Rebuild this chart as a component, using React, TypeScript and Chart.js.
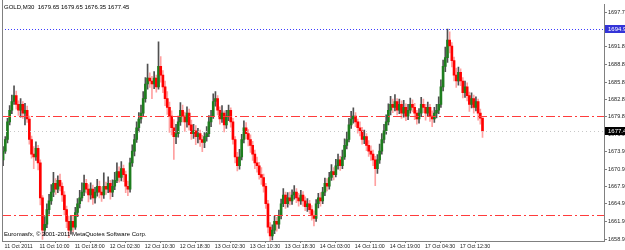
import React, { useEffect, useRef } from "react";
import { Chart, registerables } from "chart.js";
Chart.register(...registerables);

const symbolTitle = "GOLD,M30  1679.65 1679.65 1676.35 1677.45";
const copyright = "Euromasfx, \u00a9 2001-2011 MetaQuotes Software Corp.";

const firstOpen = 1672.5;
const closes = [
  1674.0,1676.0,1679.0,1681.0,1682.5,1683.5,1682.0,1681.0,1682.0,1680.5,
  1681.0,1679.5,1676.0,1673.5,1673.0,1674.5,1672.0,1666.0,1660.5,1661.5,
  1664.0,1665.5,1667.0,1668.5,1667.5,1669.0,1668.0,1666.5,1664.0,1662.0,
  1660.5,1662.0,1661.0,1663.5,1665.0,1666.0,1667.0,1668.5,1667.5,1666.5,
  1667.5,1666.0,1667.0,1668.0,1667.0,1666.5,1668.0,1667.5,1668.5,1667.0,
  1668.0,1669.0,1670.5,1669.5,1671.0,1670.0,1668.0,1667.5,1672.0,1674.0,
  1676.0,1678.0,1679.5,1680.5,1683.0,1685.5,1686.5,1686.0,1685.5,1686.5,
  1685.0,1688.5,1687.0,1685.0,1683.0,1681.5,1680.0,1678.0,1676.5,1677.0,
  1679.0,1681.0,1680.0,1679.0,1680.5,1678.5,1677.0,1677.5,1676.5,1677.0,
  1676.0,1675.5,1676.5,1677.0,1679.0,1680.0,1682.5,1683.0,1681.0,1679.5,
  1680.5,1678.5,1680.0,1681.0,1679.0,1676.0,1673.0,1671.5,1673.0,1676.0,
  1678.0,1677.0,1676.0,1675.0,1673.5,1672.0,1671.5,1670.0,1669.5,1668.0,
  1665.0,1661.0,1659.5,1660.5,1662.0,1661.5,1663.0,1665.0,1666.5,1665.0,
  1666.0,1665.5,1666.5,1667.0,1666.0,1665.5,1666.5,1665.5,1664.5,1665.0,
  1664.0,1663.0,1662.5,1665.0,1666.0,1665.5,1667.0,1668.5,1668.0,1669.5,
  1670.5,1670.0,1671.5,1672.5,1671.5,1673.0,1675.0,1676.0,1678.5,1679.5,
  1680.0,1679.0,1678.0,1677.5,1676.0,1676.5,1675.0,1674.0,1673.5,1672.5,
  1671.0,1672.5,1674.0,1676.0,1677.5,1679.0,1681.0,1682.0,1681.5,1682.5,
  1681.0,1682.0,1680.5,1681.5,1680.0,1681.0,1682.0,1681.5,1680.5,1679.5,
  1680.5,1682.0,1681.5,1680.5,1681.5,1680.0,1679.5,1680.5,1681.0,1682.0,
  1685.0,1688.5,1690.0,1693.0,1692.0,1689.5,1687.0,1686.0,1687.5,1686.0,
  1684.0,1685.0,1683.5,1682.0,1683.0,1681.5,1682.5,1680.5,1679.65,1677.45,
];
const highs = [
  1674.8,1676.5,1679.6,1681.8,1683.6,1685.2,1684.3,1682.6,1683.0,1682.5,
  1682.2,1681.7,1680.0,1676.6,1674.8,1675.6,1675.0,1672.5,1666.4,1662.8,
  1665.0,1666.6,1668.3,1670.4,1669.3,1669.8,1670.1,1668.6,1667.1,1664.6,
  1662.9,1663.0,1662.9,1664.4,1665.9,1667.3,1668.6,1669.9,1669.2,1668.3,
  1668.6,1668.2,1667.8,1669.2,1668.9,1667.9,1670.3,1668.7,1669.6,1669.0,
  1669.1,1670.4,1672.0,1671.3,1672.2,1671.6,1670.6,1668.9,1672.8,1675.1,
  1676.9,1679.0,1680.6,1681.9,1684.2,1686.6,1688.9,1687.4,1686.8,1687.6,
  1687.0,1692.7,1690.2,1687.8,1686.0,1684.2,1682.4,1680.9,1679.4,1678.6,
  1680.0,1682.3,1681.9,1680.7,1681.6,1681.2,1679.3,1678.6,1678.4,1677.9,
  1677.6,1676.7,1677.2,1678.2,1680.1,1681.0,1683.8,1684.2,1683.5,1681.6,
  1681.8,1680.9,1681.0,1681.9,1681.4,1679.6,1676.5,1673.8,1674.3,1676.9,
  1679.2,1678.9,1677.7,1676.8,1675.7,1674.2,1673.0,1672.1,1671.2,1670.1,
  1668.5,1665.6,1661.8,1661.4,1662.9,1662.7,1663.9,1665.8,1667.6,1667.0,
  1666.9,1667.0,1667.4,1668.1,1667.6,1666.8,1667.3,1667.1,1666.2,1665.9,
  1665.6,1664.7,1663.8,1665.7,1666.8,1666.9,1667.8,1669.4,1669.3,1670.4,
  1671.7,1671.2,1672.6,1673.5,1673.1,1674.2,1676.1,1677.3,1679.6,1680.8,
  1681.4,1680.6,1679.5,1679.0,1678.1,1677.6,1677.0,1675.8,1674.9,1674.2,
  1673.1,1673.4,1675.2,1677.0,1678.6,1680.2,1682.1,1683.4,1682.9,1683.7,
  1683.0,1682.9,1682.6,1682.7,1682.1,1682.0,1683.1,1682.8,1682.2,1681.0,
  1681.3,1683.2,1682.9,1682.0,1682.4,1682.0,1680.9,1681.5,1682.0,1683.3,
  1686.2,1689.6,1691.8,1694.9,1694.4,1692.6,1690.1,1688.2,1688.4,1688.1,
  1686.6,1686.0,1685.7,1684.1,1684.0,1683.6,1683.3,1682.9,1681.2,1679.65,
];
const lows = [
  1671.5,1673.6,1675.4,1678.5,1680.4,1682.0,1681.2,1680.1,1679.8,1679.6,
  1678.5,1678.9,1675.2,1672.8,1671.0,1672.4,1670.8,1664.8,1658.9,1659.6,
  1660.9,1663.2,1664.9,1666.2,1666.6,1666.9,1667.2,1665.4,1663.1,1660.9,
  1659.2,1659.8,1660.2,1660.6,1662.8,1664.3,1665.5,1666.4,1666.8,1665.3,
  1665.8,1664.9,1665.1,1666.3,1666.0,1665.4,1665.9,1666.6,1666.9,1665.8,
  1666.2,1667.4,1668.6,1668.7,1668.9,1668.8,1666.9,1666.4,1667.0,1671.4,
  1673.2,1675.5,1677.3,1678.8,1680.0,1682.4,1684.6,1684.9,1683.0,1684.7,
  1684.1,1684.6,1685.8,1684.0,1681.8,1680.3,1677.2,1676.8,1672.6,1675.3,
  1676.4,1678.4,1679.0,1677.4,1678.1,1677.6,1676.0,1676.2,1675.1,1675.4,
  1674.8,1673.9,1674.6,1675.7,1676.5,1678.2,1679.6,1681.7,1680.2,1678.6,
  1678.9,1677.3,1677.9,1679.2,1678.1,1675.2,1672.0,1670.6,1670.9,1672.5,
  1675.4,1676.1,1674.9,1673.8,1672.4,1671.0,1670.4,1669.2,1668.3,1667.0,
  1664.2,1660.0,1658.7,1658.8,1659.9,1660.3,1660.8,1662.4,1664.5,1664.2,
  1664.4,1664.8,1664.9,1665.8,1665.2,1664.6,1664.9,1664.6,1663.8,1663.7,
  1663.3,1662.2,1661.2,1662.0,1664.3,1664.6,1665.0,1666.4,1667.2,1667.5,
  1669.0,1669.1,1669.6,1670.9,1670.7,1671.0,1672.6,1674.4,1675.6,1677.9,
  1678.8,1678.2,1677.1,1676.6,1675.2,1675.3,1674.1,1673.1,1672.4,1671.5,
  1668.1,1670.2,1671.9,1673.5,1675.4,1676.9,1678.5,1680.2,1680.6,1680.9,
  1680.2,1680.4,1679.6,1679.8,1679.2,1679.4,1680.5,1680.7,1679.4,1678.6,
  1678.8,1679.9,1680.6,1679.3,1679.9,1679.1,1678.2,1678.9,1679.7,1680.4,
  1681.5,1684.3,1687.6,1689.2,1690.8,1688.4,1686.0,1684.9,1685.3,1685.2,
  1683.1,1683.2,1682.6,1680.8,1681.4,1680.5,1680.9,1679.3,1678.6,1676.35,
];

const timeLabels = [
  "11 Oct 2011","11 Oct 10:00","11 Oct 18:00","12 Oct 02:30","12 Oct 10:30",
  "12 Oct 18:30","13 Oct 02:30","13 Oct 10:30","13 Oct 18:30","14 Oct 03:00",
  "14 Oct 11:00","14 Oct 19:00","17 Oct 04:30","17 Oct 12:30",
];
const barsPerLabel = 16;
const visibleSlots = 275;

const priceTicks = [
  1697.77,1694.80,1691.83,1688.82,1685.82,1682.87,1679.87,
  1676.90,1673.93,1670.90,1667.92,1664.97,1661.93,1658.97,
];
const priceMin = 1658.63;
const priceMax = 1699.13;
const highLevel = 1694.93;
const redLevels = [1680.0, 1663.0];
const lastPrice = 1677.45;

const FONT = "'Liberation Sans', Arial, sans-serif";

export default function App() {
  const ref = useRef<HTMLCanvasElement | null>(null);
  useEffect(() => {
    document.body.style.margin = "0";
    const opens = closes.map((c, i) => (i === 0 ? firstOpen : closes[i - 1]));
    const isUp = closes.map((c, i) => c >= opens[i]);
    const labels = Array.from({ length: visibleSlots }, (_, i) => String(i));

    const overlay = {
      id: "mtOverlay",
      afterDatasetsDraw(chart: any) {
        const { ctx, chartArea } = chart;
        const y = chart.scales.y;
        const hline = (v: number, color: string, dash: number[]) => {
          const py = Math.round(y.getPixelForValue(v)) + 0.5;
          ctx.save();
          ctx.strokeStyle = color;
          ctx.lineWidth = 1;
          ctx.setLineDash(dash);
          ctx.beginPath();
          ctx.moveTo(chartArea.left, py);
          ctx.lineTo(chartArea.right, py);
          ctx.stroke();
          ctx.restore();
        };
        hline(lastPrice, "#c8c8c8", [1, 3]);
        hline(highLevel, "#3c3cff", [1, 2]);
        redLevels.forEach((v) => hline(v, "#ff3c3c", [9, 3, 2, 3]));
      },
      afterDraw(chart: any) {
        const { ctx, chartArea } = chart;
        const y = chart.scales.y;
        ctx.save();
        ctx.strokeStyle = "#808080";
        ctx.lineWidth = 1;
        ctx.beginPath();
        ctx.moveTo(chartArea.left + 0.5, 0);
        ctx.lineTo(chartArea.left + 0.5, chartArea.bottom);
        ctx.stroke();
        const box = (v: number, bg: string, txt: string) => {
          const py = y.getPixelForValue(v);
          ctx.fillStyle = bg;
          ctx.fillRect(chartArea.right + 1, Math.round(py) - 4, 21, 8);
          ctx.fillStyle = "#ffffff";
          ctx.font = `6px ${FONT}`;
          ctx.textBaseline = "middle";
          ctx.textAlign = "left";
          ctx.fillText(txt, chartArea.right + 4, Math.round(py));
        };
        box(highLevel, "#3434d8", highLevel.toFixed(2));
        box(lastPrice, "#000000", lastPrice.toFixed(2));
        ctx.fillStyle = "#000000";
        ctx.font = `6px ${FONT}`;
        ctx.textBaseline = "middle";
        ctx.textAlign = "left";
        ctx.fillText(symbolTitle, 4, 7);
        ctx.fillText(copyright, 4, 234);
        ctx.restore();
      },
    };

    const chart = new Chart(ref.current as HTMLCanvasElement, {
      type: "bar",
      data: {
        labels,
        datasets: [
          {
            label: "body",
            data: closes.map((c, i) => [Math.min(c, opens[i]), Math.max(c, opens[i])]) as any,
            backgroundColor: isUp.map((u) => (u ? "#1e7d1e" : "#ff0000")),
            barThickness: 2,
            minBarLength: 1,
            grouped: false,
            borderWidth: 0,
          },
          {
            label: "wick",
            data: highs.map((h, i) => [lows[i], h]) as any,
            backgroundColor: isUp.map((u) => (u ? "#505050" : "#ffa0a0")),
            barThickness: 1,
            grouped: false,
            borderWidth: 0,
          },
        ],
      },
      options: {
        animation: false,
        responsive: false,
        maintainAspectRatio: false,
        layout: { padding: { left: 2, top: 2, right: 0, bottom: 0 } },
        plugins: { legend: { display: false }, tooltip: { enabled: false } },
        scales: {
          x: {
            offset: true,
            grid: { display: true, drawOnChartArea: false, drawTicks: true, tickLength: 2, color: "#808080" },
            border: { color: "#808080" },
            ticks: {
              autoSkip: false,
              maxRotation: 0,
              minRotation: 0,
              align: "start",
              labelOffset: 1.5,
              padding: 0,
              color: "#222",
              font: { size: 5.3, family: FONT },
              callback: (v: any) => timeLabels[Number(v) / barsPerLabel] ?? "",
            },
            afterBuildTicks: (scale: any) => {
              scale.ticks = scale.ticks.filter(
                (t: any) => t.value % barsPerLabel === 0 && t.value / barsPerLabel < timeLabels.length
              );
            },
            afterFit: (scale: any) => {
              scale.height = 9;
            },
          },
          y: {
            position: "right",
            min: priceMin,
            max: priceMax,
            grid: { display: true, drawOnChartArea: false, drawTicks: true, tickLength: 3, color: "#808080" },
            border: { color: "#808080" },
            ticks: {
              padding: 1,
              color: "#222",
              font: { size: 5.5, family: FONT },
              callback: (v: any) => Number(v).toFixed(2),
            },
            afterBuildTicks: (scale: any) => {
              scale.ticks = priceTicks.map((v) => ({ value: v }));
            },
            afterFit: (scale: any) => {
              scale.width = 21;
            },
          },
        },
      },
      plugins: [overlay],
    });
    return () => chart.destroy();
  }, []);
  return (
    <div style={{ width: 625, height: 250, background: "#ffffff" }}>
      <canvas ref={ref} width={625} height={250} style={{ display: "block" }} />
    </div>
  );
}
